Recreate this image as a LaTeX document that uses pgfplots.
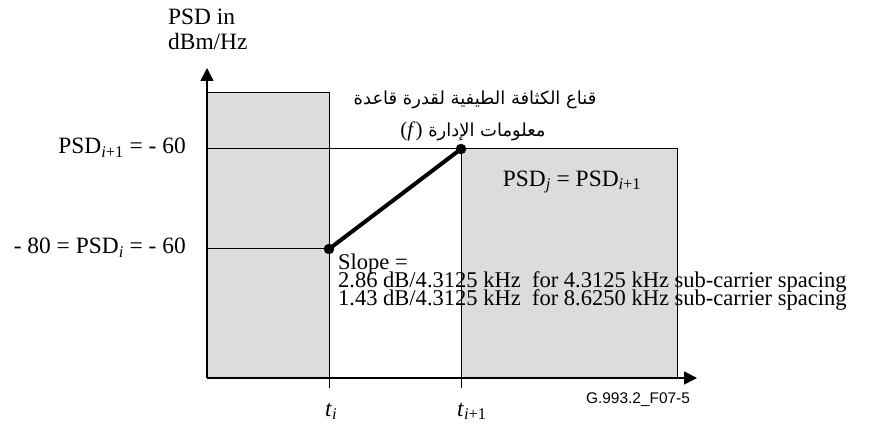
\documentclass[border=0pt]{standalone}
\usepackage{pgfplots}
\pgfplotsset{compat=1.18}
\usetikzlibrary{arrows.meta}
\usepackage{fontspec}
\setmainfont{Liberation Serif}
\newfontfamily\arabicfont[Script=Arabic]{DejaVu Sans}
\newfontfamily\labelsans{Liberation Sans}
\TeXXeTstate=1
\definecolor{maskgray}{HTML}{DCDCDC}

\begin{document}
\lineskiplimit=-50pt
\begin{tikzpicture}[font=\fontsize{23.5}{25}\selectfont]
% x: horizontal position (frequency axis, arbitrary units); y: PSD in dBm/Hz
\begin{axis}[
  name=mask,
  width=881bp, height=426bp, scale only axis,
  xmin=0, xmax=881, ymin=-115.4, ymax=-30.2,
  hide axis, clip=false,
]
% MIB PSD mask regions
\addplot[draw=black, line width=1bp, fill=maskgray]
  coordinates {(207,-105.8) (207,-48.8) (329,-48.8) (329,-105.8) (207,-105.8)};
\addplot[draw=black, line width=1bp, fill=maskgray]
  coordinates {(461,-105.8) (461,-60) (677,-60) (677,-105.8) (461,-105.8)};

% reference levels
\addplot[black, line width=1bp] coordinates {(207,-60) (461,-60)};
\addplot[black, line width=1bp] coordinates {(207,-80) (329,-80)};

% ticks at t_i and t_{i+1}
\addplot[black, line width=1bp] coordinates {(329,-105.8) (329,-107.8)};
\addplot[black, line width=1bp] coordinates {(461,-105.8) (461,-107.8)};

% axes
\addplot[black, line width=1.5bp, -{Triangle[length=13bp,width=13bp]}]
  coordinates {(207,-105.8) (207,-43.8)};
\addplot[black, line width=1.5bp, -{Triangle[length=13bp,width=13bp]}]
  coordinates {(207,-105.8) (697,-105.8)};

% transition slope between breakpoints
\addplot[black, line width=4bp] coordinates {(329,-80) (461,-60)};
\addplot[only marks, mark=*, mark size=5bp, black] coordinates {(329,-80) (461,-60)};

% axis title
\node[anchor=base west, inner sep=0] at (axis cs:168,-35.2) {PSD in};
\node[anchor=base west, inner sep=0] at (axis cs:168,-40.2) {dBm/Hz};

% level labels
\node[anchor=east, inner sep=0] at (axis cs:186,-59.7)
  {PSD\textsubscript{\textit{i}+1} = - 60};
\node[anchor=east, inner sep=0] at (axis cs:186,-79.7)
  {- 80 = PSD\textsubscript{\textit{i}} = - 60};

% mask title
\node[anchor=base, inner sep=0] at (axis cs:475,-51.2)
  {\arabicfont\fontsize{18}{20}\selectfont\beginR قناع الكثافة الطيفية لقدرة قاعدة\endR};
\node[anchor=base, inner sep=0] at (axis cs:473,-57.6)
  {\arabicfont\fontsize{18}{20}\selectfont\beginR معلومات الإدارة \beginL{\rmfamily\fontsize{21}{23}\selectfont(\textit{f})}\endL\endR};

\node[inner sep=0] at (axis cs:572,-66.6)
  {PSD\textsubscript{\textit{j}} = PSD\textsubscript{\textit{i}+1}};

% slope note
\node[anchor=north west, align=left, inner sep=0,
      font=\fontsize{22.6}{18}\selectfont]
  at (axis cs:338,-81.0)
  {Slope =\\
   2.86 dB/4.3125 kHz\ \ for 4.3125 kHz sub-carrier spacing\\
   1.43 dB/4.3125 kHz\ \ for 8.6250 kHz sub-carrier spacing};

% frequency labels
\node[anchor=base west, inner sep=0] at (axis cs:325,-113.4)
  {\textit{t}\textsubscript{\textit{i}}};
\node[anchor=base west, inner sep=0] at (axis cs:457,-113.4)
  {\textit{t}\textsubscript{\textit{i}+1}};
\node[inner sep=0, font=\labelsans\fontsize{15.5}{17}\selectfont]
  at (axis cs:638,-110.2) {G.993.2\_F07-5};
\end{axis}
\pgfresetboundingbox
\path[use as bounding box] (mask.south west) rectangle (mask.north east);
\end{tikzpicture}
\end{document}
